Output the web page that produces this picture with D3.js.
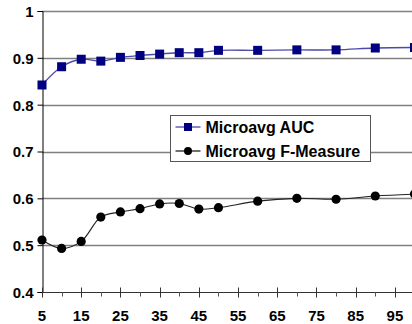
<!DOCTYPE html>
<html>
<head>
<meta charset="utf-8">
<script src="https://cdn.jsdelivr.net/npm/d3@7"></script>
<style>
  body { margin: 0; background: #fff; }
  svg text { font-family: "Liberation Sans", Arial, sans-serif; font-weight: bold; fill: #000; }
</style>
</head>
<body>
<div id="chart"></div>
<script>
// sample points along x
const xs = [5, 10, 15, 20, 25, 30, 35, 40, 45, 50, 60, 70, 80, 90, 100];
const auc = [0.842, 0.881, 0.897, 0.893, 0.901, 0.905, 0.908, 0.911, 0.911, 0.916, 0.916, 0.917, 0.917, 0.921, 0.922];
const fMeasure = [0.511, 0.493, 0.508, 0.560, 0.571, 0.578, 0.588, 0.589, 0.577, 0.580, 0.594, 0.600, 0.598, 0.605, 0.609];
const yTicks = [0.4, 0.5, 0.6, 0.7, 0.8, 0.9, 1];
const xLabelTicks = [5, 15, 25, 35, 45, 55, 65, 75, 85, 95];
const xMinorTicks = [10, 20, 30, 40, 50, 60, 70, 80, 90];
const seriesNames = ["Microavg AUC", "Microavg F-Measure"];

let width = 412, height = 324;

let x = d3.scaleLinear().domain([5, 100]).range([42, 414.5]);
let y = d3.scaleLinear().domain([0.4, 1]).range([292, 11]);

let svg = d3.select("#chart").append("svg")
    .attr("width", width)
    .attr("height", height);

// gridlines
svg.append("g").selectAll("line")
    .data(yTicks.filter(d => d > 0.4))
    .enter().append("line")
    .attr("x1", x(5)).attr("x2", width)
    .attr("y1", d => Math.round(y(d)) + 0.5).attr("y2", d => Math.round(y(d)) + 0.5)
    .attr("stroke", "#808080")
    .attr("stroke-width", 1.3);

// y axis
let yAxis = svg.append("g")
    .attr("transform", "translate(" + (x(5) + 0.5) + ",0)")
    .call(d3.axisLeft(y).tickValues(yTicks).tickSize(5).tickPadding(4)
        .tickFormat(d => d === 1 ? "1" : d3.format(".1f")(d)));
yAxis.select(".domain").attr("stroke", "#000");
yAxis.selectAll(".tick line").attr("stroke", "#000");
yAxis.selectAll("text").style("font-size", "15px").attr("dy", "0.36em");

// x axis line
let xAxisY = Math.round(y(0.4)) + 0.5;
svg.append("line")
    .attr("x1", x(5)).attr("x2", width)
    .attr("y1", xAxisY).attr("y2", xAxisY)
    .attr("stroke", "#333");

// major ticks cross the axis, minor ones hang below
svg.append("g").selectAll("line")
    .data(xLabelTicks)
    .enter().append("line")
    .attr("x1", d => Math.round(x(d)) + 0.5).attr("x2", d => Math.round(x(d)) + 0.5)
    .attr("y1", xAxisY - 5).attr("y2", xAxisY + 5)
    .attr("stroke", "#333");
svg.append("g").selectAll("line")
    .data(xMinorTicks)
    .enter().append("line")
    .attr("x1", d => Math.round(x(d)) + 0.5).attr("x2", d => Math.round(x(d)) + 0.5)
    .attr("y1", xAxisY).attr("y2", xAxisY + 4)
    .attr("stroke", "#555");
svg.append("g").selectAll("text")
    .data(xLabelTicks)
    .enter().append("text")
    .attr("x", d => x(d))
    .attr("y", 321)
    .attr("text-anchor", "middle")
    .style("font-size", "15px")
    .text(d => d);

let line = d3.line()
    .x(d => x(d[0]))
    .y(d => y(d[1]))
    .curve(d3.curveCatmullRom.alpha(0.5));

let aucPts = xs.map((v, i) => [v, auc[i]]);
let fPts = xs.map((v, i) => [v, fMeasure[i]]);

// AUC series
svg.append("path")
    .attr("d", line(aucPts))
    .attr("fill", "none")
    .attr("stroke", "#4a4aa8")
    .attr("stroke-width", 1.4);
svg.append("g").selectAll("rect")
    .data(aucPts)
    .enter().append("rect")
    .attr("x", d => x(d[0]) - 4.5)
    .attr("y", d => y(d[1]) - 4.5)
    .attr("width", 9).attr("height", 9)
    .attr("fill", "#000080");

// F-measure series
svg.append("path")
    .attr("d", line(fPts))
    .attr("fill", "none")
    .attr("stroke", "#222")
    .attr("stroke-width", 1.1);
svg.append("g").selectAll("circle")
    .data(fPts)
    .enter().append("circle")
    .attr("cx", d => x(d[0]))
    .attr("cy", d => y(d[1]))
    .attr("r", 4.6)
    .attr("fill", "#000");

// legend
let legend = svg.append("g").attr("transform", "translate(170.5,115.5)");
legend.append("rect")
    .attr("width", 200).attr("height", 46)
    .attr("fill", "#fff")
    .attr("stroke", "#555");

let rows = legend.selectAll(".row")
    .data(seriesNames)
    .enter().append("g")
    .attr("class", "row")
    .attr("transform", (d, i) => "translate(0," + (11.5 + i * 24) + ")");
rows.append("line")
    .attr("x1", 5).attr("x2", 30)
    .attr("stroke", (d, i) => i === 0 ? "#4a4aa8" : "#222")
    .attr("stroke-width", 1.3);
rows.filter((d, i) => i === 0).append("rect")
    .attr("x", 13.5).attr("y", -4).attr("width", 8).attr("height", 8)
    .attr("fill", "#000080");
rows.filter((d, i) => i === 1).append("circle")
    .attr("cx", 17.5).attr("r", 4)
    .attr("fill", "#000");
rows.append("text")
    .attr("x", 35)
    .attr("dy", "0.36em")
    .style("font-size", "16px")
    .text(d => d);
</script>
</body>
</html>
